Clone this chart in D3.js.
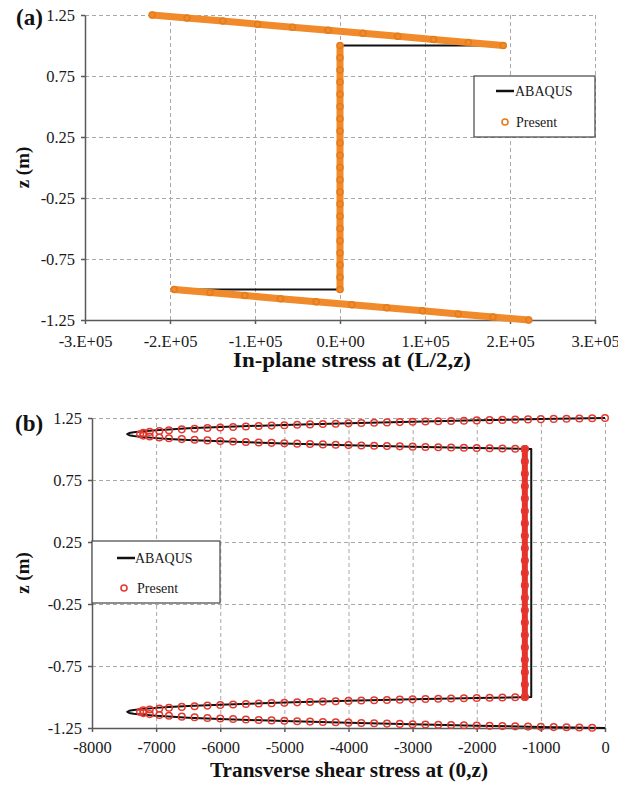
<!DOCTYPE html>
<html>
<head>
<meta charset="utf-8">
<script src="https://cdn.jsdelivr.net/npm/d3@7"></script>
<style>
  html, body { margin: 0; padding: 0; background: #fff; }
  svg { display: block; font-family: "Liberation Serif", "Times New Roman", serif; }
  .grid line { stroke: #a8a8a8; stroke-dasharray: 4,3; }
  .grid path { display: none; }
  .axis path, .axis line { stroke: #5a5a5a; stroke-width: 1.5; }
</style>
</head>
<body>
<div id="chart"></div>
<script>
// ---- shared z axis ----
const zTicks = [1.25, 0.75, 0.25, -0.25, -0.75, -1.25];
const zTickLabels = ["1.25", "0.75", "0.25", "-0.25", "-0.75", "-1.25"];

// ---- panel (a): in-plane stress ----
const stressTicksA = [-3e5, -2e5, -1e5, 0, 1e5, 2e5, 3e5];
const stressTickLabelsA = ["-3.E+05", "-2.E+05", "-1.E+05", "0.E+00", "1.E+05", "2.E+05", "3.E+05"];

// ABAQUS line, [stress, z]
const abaqusA = [[-221000, 1.25], [192000, 1.0], [0, 1.0], [0, -1.0], [-195000, -1.0], [222000, -1.25]];

// Present markers, [stress, z]
const presentA_top = [[-221000, 1.25], [-180000, 1.225], [-138000, 1.2], [-97000, 1.175], [-56000, 1.15],
  [-14000, 1.125], [27000, 1.1], [68000, 1.075], [110000, 1.05], [151000, 1.025], [192000, 1.0]];
const presentA_core = [[0, 1.0], [0, 0.9], [0, 0.8], [0, 0.7], [0, 0.6], [0, 0.5], [0, 0.4], [0, 0.3], [0, 0.2],
  [0, 0.1], [0, 0.0], [0, -0.1], [0, -0.2], [0, -0.3], [0, -0.4], [0, -0.5], [0, -0.6], [0, -0.7], [0, -0.8],
  [0, -0.9], [0, -1.0]];
const presentA_bot = [[-195000, -1.0], [-153000, -1.025], [-112000, -1.05], [-70000, -1.075], [-28000, -1.1],
  [14000, -1.125], [55000, -1.15], [97000, -1.175], [139000, -1.2], [180000, -1.225], [222000, -1.25]];

// ---- panel (b): transverse shear stress ----
const shearTicks = [-8000, -7000, -6000, -5000, -4000, -3000, -2000, -1000, 0];
const shearTickLabels = ["-8000", "-7000", "-6000", "-5000", "-4000", "-3000", "-2000", "-1000", "0"];

// ABAQUS line, [stress, z]
const abaqusB = [[0, 1.25], [-1000, 1.241], [-2000, 1.2312], [-3000, 1.2205], [-4000, 1.2084], [-5000, 1.1945],
  [-6000, 1.1773], [-6500, 1.1665], [-6800, 1.1582], [-7000, 1.1518], [-7200, 1.1436], [-7350, 1.1356],
  [-7420, 1.1285], [-7450, 1.1198], [-7420, 1.1111], [-7350, 1.104], [-7200, 1.0959], [-7000, 1.0877],
  [-6800, 1.0813], [-6500, 1.0731], [-6000, 1.0623], [-5000, 1.0451], [-4000, 1.0311], [-3000, 1.0191],
  [-2000, 1.0084], [-1150, 1.0], [-1150, -1.0], [-2000, -1.0084], [-3000, -1.0191], [-4000, -1.0311],
  [-5000, -1.0451], [-6000, -1.0623], [-6500, -1.0731], [-6800, -1.0813], [-7000, -1.0877], [-7200, -1.0959],
  [-7350, -1.104], [-7420, -1.1111], [-7450, -1.1198], [-7420, -1.1285], [-7350, -1.1356], [-7200, -1.1436],
  [-7000, -1.1518], [-6800, -1.1582], [-6500, -1.1665], [-6000, -1.1773], [-5000, -1.1945], [-4000, -1.2084],
  [-3000, -1.2205], [-2000, -1.2312], [-1000, -1.241], [0, -1.25]];

// Present markers, [stress, z]
const presentB_top = [[0, 1.25], [-200, 1.2482], [-400, 1.2463], [-600, 1.2445], [-800, 1.2426], [-1000, 1.2406],
  [-1200, 1.2387], [-1400, 1.2367], [-1600, 1.2347], [-1800, 1.2326], [-2000, 1.2305], [-2200, 1.2283],
  [-2400, 1.2262], [-2600, 1.2239], [-2800, 1.2216], [-3000, 1.2193], [-3200, 1.2169], [-3400, 1.2145],
  [-3600, 1.212], [-3800, 1.2094], [-4000, 1.2067], [-4200, 1.204], [-4400, 1.2012], [-4600, 1.1982],
  [-4800, 1.1952], [-5000, 1.192], [-5200, 1.1887], [-5400, 1.1852], [-5600, 1.1815], [-5800, 1.1776],
  [-6000, 1.1735], [-6200, 1.1689], [-6400, 1.1639], [-6600, 1.1583], [-6800, 1.1517], [-6950, 1.1457],
  [-7100, 1.1379], [-7200, 1.13], [-7250, 1.1191], [-7200, 1.1082], [-7100, 1.1003], [-6950, 1.0925],
  [-6800, 1.0865], [-6600, 1.0799], [-6400, 1.0743], [-6200, 1.0693], [-6000, 1.0648], [-5800, 1.0606],
  [-5600, 1.0567], [-5400, 1.053], [-5200, 1.0495], [-5000, 1.0462], [-4800, 1.043], [-4600, 1.04],
  [-4400, 1.037], [-4200, 1.0342], [-4000, 1.0315], [-3800, 1.0288], [-3600, 1.0262], [-3400, 1.0237],
  [-3200, 1.0213], [-3000, 1.0189], [-2800, 1.0166], [-2600, 1.0143], [-2400, 1.0121], [-2200, 1.0099],
  [-2000, 1.0077], [-1800, 1.0056], [-1600, 1.0036], [-1400, 1.0015], [-1250, 1.0]];
const presentB_core = [[-1250, 1.0], [-1250, 0.9], [-1250, 0.8], [-1250, 0.7], [-1250, 0.6], [-1250, 0.5],
  [-1250, 0.4], [-1250, 0.3], [-1250, 0.2], [-1250, 0.1], [-1250, 0.0], [-1250, -0.1], [-1250, -0.2],
  [-1250, -0.3], [-1250, -0.4], [-1250, -0.5], [-1250, -0.6], [-1250, -0.7], [-1250, -0.8], [-1250, -0.9],
  [-1250, -1.0]];
const presentB_bot = [[-1250, -1.0], [-1400, -1.0015], [-1600, -1.0036], [-1800, -1.0056], [-2000, -1.0077],
  [-2200, -1.0099], [-2400, -1.0121], [-2600, -1.0143], [-2800, -1.0166], [-3000, -1.0189], [-3200, -1.0213],
  [-3400, -1.0237], [-3600, -1.0262], [-3800, -1.0288], [-4000, -1.0315], [-4200, -1.0342], [-4400, -1.037],
  [-4600, -1.04], [-4800, -1.043], [-5000, -1.0462], [-5200, -1.0495], [-5400, -1.053], [-5600, -1.0567],
  [-5800, -1.0606], [-6000, -1.0648], [-6200, -1.0693], [-6400, -1.0743], [-6600, -1.0799], [-6800, -1.0865],
  [-6950, -1.0925], [-7100, -1.1003], [-7200, -1.1082], [-7250, -1.1191], [-7200, -1.13], [-7100, -1.1379],
  [-6950, -1.1457], [-6800, -1.1517], [-6600, -1.1583], [-6400, -1.1639], [-6200, -1.1689], [-6000, -1.1735],
  [-5800, -1.1776], [-5600, -1.1815], [-5400, -1.1852], [-5200, -1.1887], [-5000, -1.192], [-4800, -1.1952],
  [-4600, -1.1982], [-4400, -1.2012], [-4200, -1.204], [-4000, -1.2067], [-3800, -1.2094], [-3600, -1.212],
  [-3400, -1.2145], [-3200, -1.2169], [-3000, -1.2193], [-2800, -1.2216], [-2600, -1.2239], [-2400, -1.2262],
  [-2200, -1.2283], [-2000, -1.2305], [-1800, -1.2326], [-1600, -1.2347], [-1400, -1.2367], [-1200, -1.2387],
  [-1000, -1.2406], [-800, -1.2426], [-600, -1.2445], [-400, -1.2463], [-200, -1.2482]];

const legendLabels = ["ABAQUS", "Present"];

const serif = '"Liberation Serif", "Times New Roman", Times, serif';
const W = 618, H = 785;
const svg = d3.select("#chart").append("svg")
  .attr("width", W).attr("height", H)
  .attr("viewBox", [0, 0, W, H]);

function styleTicks(g) {
  g.selectAll(".tick text")
    .style("font-family", serif)
    .style("font-size", "16.5px")
    .style("fill", "#1a1a1a");
}

function drawPanel(p) {
  const x = d3.scaleLinear().domain(p.xDomain).range([p.left, p.right]);
  const y = d3.scaleLinear().domain([-1.25, 1.25]).range([p.bottom, p.top]);
  const g = svg.append("g");

  // dashed grid
  g.append("g").attr("class", "grid")
    .attr("transform", "translate(0," + p.bottom + ")")
    .call(d3.axisBottom(x).tickValues(p.xTicks).tickSize(-(p.bottom - p.top)).tickFormat(""));
  g.append("g").attr("class", "grid")
    .attr("transform", "translate(" + p.left + ",0)")
    .call(d3.axisLeft(y).tickValues(zTicks).tickSize(-(p.right - p.left)).tickFormat(""));

  // axes
  g.append("g").attr("class", "axis")
    .attr("transform", "translate(0," + p.bottom + ")")
    .call(d3.axisBottom(x).tickValues(p.xTicks).tickSize(4).tickSizeOuter(0)
      .tickPadding(p.xPad).tickFormat((d, i) => p.xLabels[i]))
    .call(styleTicks);
  g.append("g").attr("class", "axis")
    .attr("transform", "translate(" + p.left + ",0)")
    .call(d3.axisLeft(y).tickValues(zTicks).tickSize(4).tickSizeOuter(0)
      .tickPadding(6).tickFormat((d, i) => zTickLabels[i]))
    .call(styleTicks);

  const line = d3.line().x(d => x(d[0])).y(d => y(d[1]));

  // ABAQUS line (under the Present markers)
  g.append("path").datum(p.abaqus)
    .attr("d", line)
    .attr("fill", "none")
    .attr("stroke", "#111")
    .attr("stroke-width", 2)
    .attr("stroke-linejoin", "round");

  // Present: thick band where markers overlap
  p.bands.forEach(seg => {
    g.append("path").datum(seg)
      .attr("d", line)
      .attr("fill", "none")
      .attr("stroke", p.bandColor)
      .attr("stroke-width", p.bandWidth)
      .attr("stroke-linecap", "round");
  });

  // Present markers
  g.append("g").selectAll("circle")
    .data(p.present.flat())
    .join("circle")
      .attr("cx", d => x(d[0]))
      .attr("cy", d => y(d[1]))
      .attr("r", p.markerR)
      .attr("fill", "none")
      .attr("stroke", p.markerColor)
      .attr("stroke-width", 1.5);

  // legend
  const lg = g.append("g");
  lg.append("rect")
    .attr("x", p.legend.x).attr("y", p.legend.y)
    .attr("width", p.legend.w).attr("height", p.legend.h)
    .attr("fill", "#fff").attr("stroke", "#444").attr("stroke-width", 1.2);
  lg.append("line")
    .attr("x1", p.legend.lx1).attr("x2", p.legend.lx2)
    .attr("y1", p.legend.row1).attr("y2", p.legend.row1)
    .attr("stroke", "#111").attr("stroke-width", 2.5);
  lg.append("circle")
    .attr("cx", p.legend.mx).attr("cy", p.legend.row2).attr("r", 3)
    .attr("fill", "none").attr("stroke", p.markerColor).attr("stroke-width", 1.6);
  lg.selectAll("text")
    .data(legendLabels)
    .join("text")
      .attr("x", (d, i) => i === 0 ? p.legend.tx1 : p.legend.tx2)
      .attr("y", (d, i) => (i === 0 ? p.legend.row1 : p.legend.row2) + 5)
      .style("font-family", serif)
      .style("font-size", "14px")
      .style("fill", "#1a1a1a")
      .text(d => d);

  // titles
  g.append("text")
    .attr("x", p.titleX).attr("y", p.titleY)
    .attr("text-anchor", "middle")
    .attr("textLength", p.titleLen).attr("lengthAdjust", "spacingAndGlyphs")
    .style("font-family", serif)
    .style("font-size", "20px").style("font-weight", "bold").style("fill", "#111")
    .text(p.title);
  g.append("text")
    .attr("transform", "translate(" + 29 + "," + ((p.top + p.bottom) / 2) + ") rotate(-90)")
    .attr("text-anchor", "middle")
    .style("font-family", serif)
    .style("font-size", "19px").style("font-weight", "bold").style("fill", "#111")
    .text("z (m)");
  g.append("text")
    .attr("x", p.tagX).attr("y", p.tagY)
    .style("font-family", serif)
    .style("font-size", "23px").style("font-weight", "bold").style("fill", "#111")
    .text(p.tag);
}

drawPanel({
  xDomain: [-3e5, 3e5], xTicks: stressTicksA, xLabels: stressTickLabelsA, xPad: 11,
  left: 85, right: 595, top: 15, bottom: 320,
  abaqus: abaqusA,
  present: [presentA_top, presentA_core, presentA_bot],
  bands: [presentA_top, presentA_core, presentA_bot],
  bandColor: "#f08a2a", bandWidth: 7, markerColor: "#e47c1c", markerR: 3,
  legend: { x: 474, y: 76, w: 121, h: 61, lx1: 496, lx2: 514, tx1: 515, tx2: 516, mx: 505, row1: 91, row2: 122 },
  title: "In-plane stress at (L/2,z)", titleX: 352, titleY: 367, titleLen: 238,
  tag: "(a)", tagX: 16, tagY: 25
});

drawPanel({
  xDomain: [-8000, 0], xTicks: shearTicks, xLabels: shearTickLabels, xPad: 9,
  left: 92, right: 605, top: 418, bottom: 728,
  abaqus: abaqusB,
  present: [presentB_top, presentB_core, presentB_bot],
  bands: [presentB_core],
  bandColor: "#e5322c", bandWidth: 6, markerColor: "#e5392f", markerR: 3.3,
  legend: { x: 92, y: 541, w: 128, h: 62, lx1: 117, lx2: 135, tx1: 135, tx2: 137, mx: 124, row1: 558, row2: 588 },
  title: "Transverse shear stress at (0,z)", titleX: 349, titleY: 777, titleLen: 278,
  tag: "(b)", tagX: 15, tagY: 431
});
</script>
</body>
</html>
